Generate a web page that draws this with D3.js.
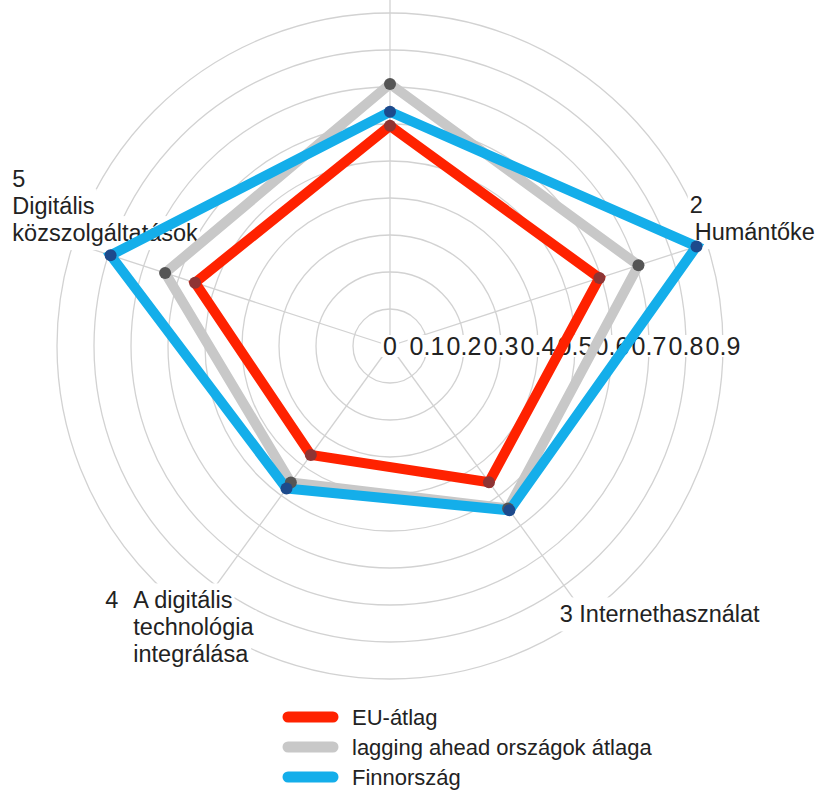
<!DOCTYPE html>
<html>
<head>
<meta charset="utf-8">
<script src="https://cdn.jsdelivr.net/npm/d3@7"></script>
<style>
  body { margin: 0; background: #fff; }
  text { font-family: "Liberation Sans", Arial, sans-serif; fill: #222; }
</style>
</head>
<body>
<div id="chart"></div>
<script>
// data
const axisNames = ['1', '2 Humántőke', '3 Internethasználat', '4 A digitális technológia integrálása', '5 Digitális közszolgáltatások']
const seriesNames = ['EU-átlag', 'lagging ahead országok átlaga', 'Finnország']
const euAtlag = [0.595, 0.595, 0.455, 0.364, 0.554]
const laggingAhead = [0.708, 0.706, 0.543, 0.456, 0.639]
const finnorszag = [0.633, 0.871, 0.549, 0.476, 0.794]
const tickValues = [0, 0.1, 0.2, 0.3, 0.4, 0.5, 0.6, 0.7, 0.8, 0.9]
const tickLabels = ['0', '0.1', '0.2', '0.3', '0.4', '0.5', '0.6', '0.7', '0.8', '0.9']

// canvas
const width = 823,
  height = 790,
  cx = 390,
  cy = 346

const colors = ['#ff2200', '#c8c8c8', '#14aeea']
const dotColors = ['#8e3434', '#555555', '#1d4a8c']

let r = d3.scaleLinear().domain([0, 1]).range([0, 370])
let angle = i => i * 2 * Math.PI / axisNames.length

let svg = d3.select('#chart')
  .append('svg')
  .attr('width', width)
  .attr('height', height)

let g = svg.append('g').attr('transform', `translate(${cx},${cy})`)

// rings
g.selectAll('circle.ring')
  .data(tickValues.filter(d => d > 0))
  .enter()
  .append('circle')
  .attr('class', 'ring')
  .attr('r', d => r(d))
  .attr('fill', 'none')
  .attr('stroke', '#d2d2d2')
  .attr('stroke-width', 1.3)

// spokes
g.selectAll('line.spoke')
  .data(axisNames)
  .enter()
  .append('line')
  .attr('x1', 0)
  .attr('y1', 0)
  .attr('x2', (d, i) => r(0.94) * Math.sin(angle(i)))
  .attr('y2', (d, i) => -r(0.94) * Math.cos(angle(i)))
  .attr('stroke', '#d2d2d2')
  .attr('stroke-width', 1.3)

// label layers: white boxes under, text over
let bgLayer = g.append('g')
let textLayer = g.append('g')

let boxedText = (x, y, txt, size, anchor, padTop, padBot) => {
  let rect = bgLayer.append('rect').attr('fill', '#fff')
  let t = textLayer.append('text')
    .attr('x', x)
    .attr('y', y)
    .attr('font-size', size)
    .attr('text-anchor', anchor || 'start')
    .text(txt)
  let bb = t.node().getBBox()
  rect.attr('x', bb.x - 2).attr('y', bb.y - padTop)
    .attr('width', bb.width + 4).attr('height', bb.height + padTop + padBot)
}

// tick labels along horizontal
tickValues.forEach((d, i) => {
  boxedText(r(d), 9, tickLabels[i], 25, 'middle', -3, -3)
})

// axis labels (offsets from the 0.9 end of each spoke)
const labelLayout = [
  [],
  [['2', -17, -30], ['Humántőke', -12, -3]],
  [['3 Internethasználat', -26, 7]],
  [['4', -89, -7], ['A digitális', -61, -7], ['technológia', -61, 20], ['integrálása', -61, 47]],
  [['5', -61, -56], ['Digitális', -61, -29], ['közszolgáltatások', -61, -2]]
]
labelLayout.forEach((lines, i) => {
  let ex = r(0.9) * Math.sin(angle(i)),
    ey = -r(0.9) * Math.cos(angle(i))
  lines.forEach(l => boxedText(ex + l[1], ey + l[2], l[0], 23.5, 'start', 4, 4))
})

// series
let series = [euAtlag, laggingAhead, finnorszag]
let radar = d3.lineRadial()
  .angle((d, i) => angle(i))
  .radius(d => r(d))
  .curve(d3.curveLinearClosed)

series.forEach((vals, s) => {
  g.append('path')
    .attr('d', radar(vals))
    .attr('fill', 'none')
    .attr('stroke', colors[s])
    .attr('stroke-width', 10)
    .attr('stroke-linejoin', 'miter')
})
series.forEach((vals, s) => {
  g.selectAll(null)
    .data(vals)
    .enter()
    .append('circle')
    .attr('cx', (d, i) => r(d) * Math.sin(angle(i)))
    .attr('cy', (d, i) => -r(d) * Math.cos(angle(i)))
    .attr('r', 6)
    .attr('fill', dotColors[s])
})

// legend
let legend = svg.append('g').attr('transform', 'translate(283,717)')
seriesNames.forEach((name, i) => {
  legend.append('line')
    .attr('x1', 5).attr('x2', 50)
    .attr('y1', i * 30).attr('y2', i * 30)
    .attr('stroke', colors[i])
    .attr('stroke-width', 11)
    .attr('stroke-linecap', 'round')
  legend.append('text')
    .attr('x', 69)
    .attr('y', i * 30 + 8)
    .attr('font-size', 22)
    .text(name)
})
</script>
</body>
</html>
